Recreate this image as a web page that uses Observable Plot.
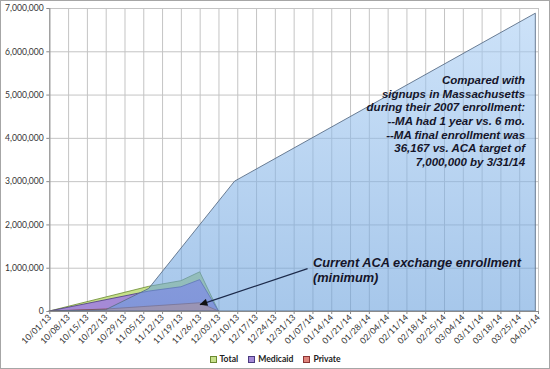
<!DOCTYPE html>
<html><head><meta charset="utf-8">
<script src="https://cdn.jsdelivr.net/npm/d3@7"></script>
<script src="https://cdn.jsdelivr.net/npm/@observablehq/plot@0.6"></script>
<style>
html,body{margin:0;padding:0;background:#fff;}
#frame{width:548px;height:367px;border:1px solid #a6a6a6;position:relative;overflow:hidden;background:#fff;}
#legend{position:absolute;left:0;top:352px;width:548px;display:flex;justify-content:center;gap:10px;font:bold 8.6px Lato, sans-serif;color:#222;line-height:12px;}
#legend span.item{display:inline-flex;align-items:center;}
.sw{display:inline-block;width:5px;height:5px;margin-right:3px;border:1px solid;}
</style></head><body>
<div id="frame"><div id="chart"></div><div id="legend"></div></div>
<script>
// ---- data ----
const tickDates = ["2013-10-01","2013-10-08","2013-10-15","2013-10-22","2013-10-29","2013-11-05","2013-11-12","2013-11-19","2013-11-26","2013-12-03","2013-12-10","2013-12-17","2013-12-24","2013-12-31","2014-01-07","2014-01-14","2014-01-21","2014-01-28","2014-02-04","2014-02-11","2014-02-18","2014-02-25","2014-03-04","2014-03-11","2014-03-18","2014-03-25","2014-04-01"];
const yTicks = [0,1000000,2000000,3000000,4000000,5000000,6000000,7000000];

const totalDates = ["2013-10-01","2013-11-07","2013-11-19","2013-11-26","2013-12-03"];
const totalValues = [0, 570000, 700000, 905000, 0];
const medicaidDates = ["2013-10-01","2013-11-07","2013-11-19","2013-11-26","2013-12-03"];
const medicaidValues = [0, 460000, 560000, 725000, 0];
const privateDates = ["2013-10-01","2013-10-22","2013-11-26","2013-12-03"];
const privateValues = [0, 45000, 190000, 0];
const maDates = ["2013-10-01","2013-10-22","2013-11-07","2013-12-09","2014-03-31"];
const maValues = [0, 30000, 520000, 3000000, 6880000];

const legendNames = ["Total","Medicaid","Private"];
const legendFills = ["#c6e08a","#a58ad6","#e0847c"];
const legendStrokes = ["#6b8a32","#4a3a80","#8c3535"];

const noteRight = "Compared with\nsignups in Massachusetts\nduring their 2007 enrollment:\n--MA had 1 year vs. 6 mo.\n--MA final enrollment was\n36,167 vs. ACA target of\n7,000,000 by 3/31/14";
const noteRightAt = {date: "2014-03-27", value: 5480000};
const noteLow = "Current ACA exchange enrollment\n(minimum)";
const noteLowAt = {date: "2014-01-07", value: 1260000};
const arrowFrom = {date: "2014-01-05", value: 990000};
const arrowTo = {date: "2013-11-26", value: 160000};

// ---- build ----
const P = s => new Date(s + "T00:00:00Z");
const series = (ds, vs) => ds.map((d, i) => ({date: P(d), value: vs[i]}));
const total = series(totalDates, totalValues);
const medicaid = series(medicaidDates, medicaidValues);
const priv = series(privateDates, privateValues);
const ma = series(maDates, maValues);
const ticks = tickDates.map(P);

const noteFont = "'Liberation Sans Narrow','Arial Narrow','Liberation Sans',Arial,sans-serif";

const chart = Plot.plot({
  width: 548, height: 348,
  marginLeft: 48.3, marginRight: 11, marginTop: 7, marginBottom: 38,
  style: {fontFamily: "Lato, sans-serif", fontSize: "8px", color: "#333", background: "transparent"},
  x: {type: "utc", domain: [P("2013-10-01"), P("2014-04-01")]},
  y: {domain: [0, 7000000]},
  marks: [
    Plot.gridX(ticks, {stroke: "#c4c4c4", strokeOpacity: 1}),
    Plot.gridY(yTicks, {stroke: "#c4c4c4", strokeOpacity: 1}),
    Plot.areaY(total, {x: "date", y: "value", fill: legendFills[0], stroke: legendStrokes[0], strokeWidth: 0.8}),
    Plot.areaY(medicaid, {x: "date", y: "value", fill: legendFills[1], stroke: legendStrokes[1], strokeWidth: 0.8}),
    Plot.areaY(priv, {x: "date", y: "value", fill: legendFills[2], stroke: legendStrokes[2], strokeWidth: 0.8}),
    Plot.areaY(ma, {x: "date", y: "value", fill: "url(#maGrad)", fillOpacity: 0.58, stroke: "#5b6f88", strokeWidth: 0.9}),
    Plot.ruleX([ticks[0]], {stroke: "#8a8a8a"}),
    Plot.ruleY([0], {stroke: "#8a8a8a"}),
    Plot.link([{x1: P(arrowFrom.date), y1: arrowFrom.value, x2: P(arrowTo.date), y2: arrowTo.value}],
      {x1: "x1", y1: "y1", x2: "x2", y2: "y2", stroke: "#1c2a4a", strokeWidth: 1.3, className: "note-arrow"}),
    Plot.text([noteLowAt], {x: d => P(d.date), y: "value", text: () => noteLow, textAnchor: "start", lineAnchor: "top",
      fontFamily: noteFont, fontWeight: "bold", fontStyle: "italic", fontSize: 12.8, lineHeight: 1.15, fill: "#15152a"}),
    Plot.text([noteRightAt], {x: d => P(d.date), y: "value", text: () => noteRight, textAnchor: "end", lineAnchor: "top",
      fontFamily: noteFont, fontWeight: "bold", fontStyle: "italic", fontSize: 11.5, lineHeight: 1.19, fill: "#15152a"}),
    Plot.axisX(ticks, {tickRotate: -45, tickFormat: d3.utcFormat("%m/%d/%y"), tickSize: 3, tickPadding: 1.5, textAnchor: "end", fontSize: 8.6, fill: "#333", stroke: "#8a8a8a"}),
    Plot.axisY(yTicks, {tickFormat: d3.format(","), tickSize: 3, tickPadding: 3, fontSize: 8.6, fill: "#333", stroke: "#8a8a8a"})
  ]
});

// gradient + arrowhead definitions
const defs = d3.create("svg:defs");
const g = defs.append("linearGradient").attr("id", "maGrad").attr("x1", 0).attr("y1", 0).attr("x2", 0).attr("y2", 1);
g.append("stop").attr("offset", "0%").attr("stop-color", "#a8cdf4");
g.append("stop").attr("offset", "100%").attr("stop-color", "#679fdc");
const m = defs.append("marker").attr("id", "ah").attr("viewBox", "0 0 10 10").attr("refX", 9).attr("refY", 5)
  .attr("markerWidth", 9).attr("markerHeight", 8).attr("orient", "auto").attr("markerUnits", "userSpaceOnUse");
m.append("path").attr("d", "M0,0.5L10,5L0,9.5z").attr("fill", "#111");
chart.insertBefore(defs.node(), chart.firstChild);
d3.select(chart).selectAll(".note-arrow path").attr("marker-end", "url(#ah)");

document.getElementById("chart").appendChild(chart);

const leg = d3.select("#legend");
legendNames.forEach((n, i) => {
  const it = leg.append("span").attr("class", "item");
  it.append("span").attr("class", "sw").style("background", legendFills[i]).style("border-color", legendStrokes[i]);
  it.append("span").text(n);
});
</script>
</body></html>
